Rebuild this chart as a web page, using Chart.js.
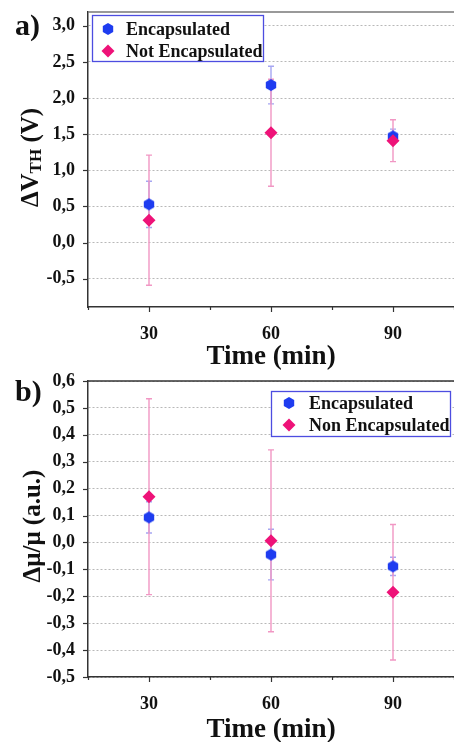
<!DOCTYPE html>
<html>
<head>
<meta charset="utf-8">
<script src="https://cdn.jsdelivr.net/npm/chart.js@4.4.1/dist/chart.umd.min.js"></script>
<style>
  html, body { margin: 0; padding: 0; background: #fff; overflow: hidden; }
  .box { position: relative; width: 454px; }
  #boxA { height: 370px; }
  #boxB { height: 372px; }
  canvas { display: block; }
</style>
</head>
<body>
<div class="box" id="boxA"><canvas id="chartA"></canvas></div>
<div class="box" id="boxB"><canvas id="chartB"></canvas></div>
<script>
// ---- data ----
const times = [30, 60, 90];
const xTickLabels = [30, 60, 90];

// a) threshold voltage shift
const dvthEnc = [0.53, 2.18, 1.47];
const dvthEncErr = [0.32, 0.26, 0.10];
const dvthNotEnc = [0.31, 1.52, 1.41];
const dvthNotEncErr = [0.90, 0.74, 0.29];
const yTicksA = [-0.5, 0, 0.5, 1, 1.5, 2, 2.5, 3];
const yLabelsA = ['-0,5', '0,0', '0,5', '1,0', '1,5', '2,0', '2,5', '3,0'];

// b) mobility change
const dmuEnc = [0.093, -0.045, -0.089];
const dmuEncErr = [0.058, 0.094, 0.034];
const dmuNonEnc = [0.17, 0.006, -0.185];
const dmuNonEncErr = [0.364, 0.338, 0.252];
const yTicksB = [-0.5, -0.4, -0.3, -0.2, -0.1, 0, 0.1, 0.2, 0.3, 0.4, 0.5, 0.6];
const yLabelsB = ['-0,5', '-0,4', '-0,3', '-0,2', '-0,1', '0,0', '0,1', '0,2', '0,3', '0,4', '0,5', '0,6'];

const BLUE = '#1e3cf0';
const PINK = '#ee1278';
const FONT = '"Liberation Serif", "DejaVu Serif", serif';

// hexagon marker for the encapsulated series
function makeHexagon(r, color) {
    const c = document.createElement('canvas');
    const s = Math.ceil(r * 2) + 2;
    c.width = s; c.height = s;
    const g = c.getContext('2d');
    g.fillStyle = color;
    g.beginPath();
    for (let i = 0; i < 6; i++) {
        const a = Math.PI / 2 + i * Math.PI / 3;
        g.lineTo(s / 2 + r * Math.cos(a), s / 2 + r * Math.sin(a));
    }
    g.closePath();
    g.fill();
    return c;
}
const hexMarker = makeHexagon(6, BLUE);

function pts(ys) {
    return times.map((t, i) => ({ x: t, y: ys[i] }));
}

// error bars, drawn under the markers
const errorBars = {
    id: 'errorBars',
    beforeDatasetsDraw(chart) {
        const ctx = chart.ctx;
        const xs = chart.scales.x, ys = chart.scales.y;
        chart.data.datasets.forEach(ds => {
            ctx.save();
            ctx.strokeStyle = ds.errColor;
            ctx.lineWidth = 1.4;
            ds.data.forEach((p, i) => {
                const x = Math.round(xs.getPixelForValue(p.x));
                const y1 = ys.getPixelForValue(p.y + ds.errors[i]);
                const y2 = ys.getPixelForValue(p.y - ds.errors[i]);
                ctx.beginPath();
                ctx.moveTo(x, y1); ctx.lineTo(x, y2);
                ctx.moveTo(x - 3, y1); ctx.lineTo(x + 3, y1);
                ctx.moveTo(x - 3, y2); ctx.lineTo(x + 3, y2);
                ctx.stroke();
            });
            ctx.restore();
        });
    }
};

// tick marks, frame, titles, panel letter and legend box
const decorations = {
    id: 'decorations',
    afterDraw(chart) {
        const o = chart.options.plugins.decorations;
        const ctx = chart.ctx;
        const area = chart.chartArea;
        const xs = chart.scales.x, ys = chart.scales.y;
        ctx.save();
        ctx.strokeStyle = '#333';
        ctx.lineWidth = 1.2;
        // y ticks
        ys.ticks.forEach(t => {
            const y = Math.round(ys.getPixelForValue(t.value)) + 0.5;
            const len = o.yMajor.includes(t.value) ? 5 : 3;
            ctx.beginPath(); ctx.moveTo(area.left - len, y); ctx.lineTo(area.left, y); ctx.stroke();
        });
        // x ticks
        xs.ticks.forEach(t => {
            const x = Math.round(xs.getPixelForValue(t.value)) + 0.5;
            const len = xTickLabels.includes(t.value) ? 5 : 3;
            ctx.beginPath(); ctx.moveTo(x, area.bottom); ctx.lineTo(x, area.bottom + len); ctx.stroke();
        });
        // top frame line
        ctx.strokeStyle = o.topColor;
        ctx.lineWidth = 1.5;
        ctx.beginPath(); ctx.moveTo(area.left, area.top); ctx.lineTo(chart.width, area.top); ctx.stroke();

        ctx.fillStyle = '#111';
        // panel letter
        ctx.font = 'bold 30px ' + FONT;
        ctx.textAlign = 'left';
        ctx.textBaseline = 'alphabetic';
        ctx.fillText(o.letter, 15, o.letterY);

        // x title
        ctx.font = 'bold 27px ' + FONT;
        ctx.textAlign = 'center';
        ctx.textBaseline = 'middle';
        ctx.fillText('Time (min)', (area.left + chart.width) / 2, o.xTitleY);

        // y title (rotated, with optional subscript)
        ctx.save();
        ctx.translate(o.yTitleX, (area.top + area.bottom) / 2 + o.yTitleShift);
        ctx.rotate(-Math.PI / 2);
        ctx.textBaseline = 'alphabetic';
        ctx.textAlign = 'left';
        const big = 'bold 25px ' + FONT, small = 'bold 17px ' + FONT;
        let w = 0;
        o.yTitle.forEach(part => { ctx.font = part.sub ? small : big; w += ctx.measureText(part.t).width; });
        let cx = -w / 2;
        o.yTitle.forEach(part => {
            ctx.font = part.sub ? small : big;
            ctx.fillText(part.t, cx, part.sub ? 3 : 0);
            cx += ctx.measureText(part.t).width;
        });
        ctx.restore();

        // legend
        const L = o.legend;
        ctx.fillStyle = '#fff';
        ctx.fillRect(L.x, L.y, L.w, L.h);
        ctx.strokeStyle = '#4d4de0';
        ctx.lineWidth = 1.3;
        ctx.strokeRect(L.x + 0.5, L.y + 0.5, L.w, L.h);
        ctx.font = 'bold 18px ' + FONT;
        ctx.textAlign = 'left';
        ctx.textBaseline = 'middle';
        chart.data.datasets.forEach((ds, i) => {
            const my = L.y + L.rowY[i];
            if (ds.pointStyle === 'rectRot') {
                ctx.fillStyle = ds.backgroundColor;
                ctx.beginPath();
                ctx.moveTo(L.markX - 6.5, my); ctx.lineTo(L.markX, my - 6.5);
                ctx.lineTo(L.markX + 6.5, my); ctx.lineTo(L.markX, my + 6.5);
                ctx.closePath(); ctx.fill();
            } else {
                ctx.drawImage(hexMarker, L.markX - hexMarker.width / 2, my - hexMarker.height / 2);
            }
            ctx.fillStyle = '#111';
            ctx.fillText(ds.label, L.textX, my + 1);
        });
        ctx.restore();
    }
};

function makeChart(id, cfg) {
    const majors = cfg.yTicks;
    const allTicks = [];
    majors.forEach((v, i) => {
        allTicks.push(v);
        if (i < majors.length - 1) allTicks.push(+((v + majors[i + 1]) / 2).toFixed(3));
    });
    return new Chart(document.getElementById(id), {
        type: 'scatter',
        data: {
            datasets: [
                {
                    label: 'Encapsulated',
                    data: pts(cfg.enc),
                    errors: cfg.encErr,
                    errColor: '#a6a6f2',
                    pointStyle: hexMarker,
                    backgroundColor: BLUE,
                    order: 1
                },
                {
                    label: cfg.notLabel,
                    data: pts(cfg.notEnc),
                    errors: cfg.notEncErr,
                    errColor: '#f197c4',
                    pointStyle: 'rectRot',
                    pointRadius: 6.5,
                    pointHoverRadius: 6.5,
                    borderWidth: 0,
                    backgroundColor: PINK,
                    order: 0
                }
            ]
        },
        options: {
            responsive: true,
            maintainAspectRatio: false,
            animation: false,
            events: [],
            layout: {
                autoPadding: false, // keep the plot running to the right edge
                padding: { top: cfg.padTop, left: 0, right: 0, bottom: 0 }
            },
            plugins: {
                legend: { display: false },
                tooltip: { enabled: false },
                decorations: cfg.deco
            },
            scales: {
                x: {
                    type: 'linear',
                    min: 15,
                    max: 105,
                    afterFit: s => {
                        s.height = cfg.xHeight;
                        s.paddingLeft = 0; s.paddingRight = 0;
                    },
                    grid: { display: false },
                    border: { color: '#333', width: 1.5 },
                    ticks: {
                        stepSize: 15,
                        padding: 9,
                        color: '#111',
                        font: { family: FONT, size: 18, weight: 'bold' },
                        callback: v => xTickLabels.includes(v) ? String(v) : ''
                    }
                },
                y: {
                    min: cfg.yMin,
                    max: cfg.yMax,
                    afterFit: s => {
                        s.width = 88;
                        s.paddingTop = 0; s.paddingBottom = 0;
                    },
                    afterBuildTicks: s => { s.ticks = allTicks.map(v => ({ value: v })); },
                    grid: {
                        drawTicks: false,
                        color: c => majors.includes(c.tick.value) ? '#b8b8b8' : '#e4e4e4'
                    },
                    border: { color: '#333', width: 1.5, dash: [2, 2] },
                    ticks: {
                        padding: 13,
                        color: '#111',
                        font: { family: FONT, size: 18, weight: 'bold' },
                        callback: v => {
                            const k = majors.indexOf(v);
                            return k >= 0 ? cfg.yLabels[k] : '';
                        }
                    }
                }
            }
        },
        plugins: [errorBars, decorations]
    });
}

makeChart('chartA', {
    enc: dvthEnc, encErr: dvthEncErr,
    notEnc: dvthNotEnc, notEncErr: dvthNotEncErr,
    notLabel: 'Not Encapsulated',
    yTicks: yTicksA, yLabels: yLabelsA,
    yMin: -0.89, yMax: 3.19,
    padTop: 12, xHeight: 63,
    deco: {
        letter: 'a)', letterY: 35, topColor: '#777',
        yMajor: yTicksA,
        xTitleY: 357,
        yTitleX: 38, yTitleShift: -2,
        yTitle: [{ t: '\u0394V' }, { t: 'TH', sub: true }, { t: ' (V)' }],
        legend: { x: 92, y: 15, w: 171, h: 46, rowY: [14, 36], markX: 108, textX: 126 }
    }
});

makeChart('chartB', {
    enc: dmuEnc, encErr: dmuEncErr,
    notEnc: dmuNonEnc, notEncErr: dmuNonEncErr,
    notLabel: 'Non Encapsulated',
    yTicks: yTicksB, yLabels: yLabelsB,
    yMin: -0.5, yMax: 0.6,
    padTop: 11, xHeight: 65,
    deco: {
        letter: 'b)', letterY: 31, topColor: '#333',
        yMajor: yTicksB,
        xTitleY: 360,
        yTitleX: 40, yTitleShift: -3,
        yTitle: [{ t: '\u0394\u03bc/\u03bc (a.u.)' }],
        legend: { x: 271, y: 21, w: 179, h: 45, rowY: [12, 34], markX: 289, textX: 309 }
    }
});
</script>
</body>
</html>
